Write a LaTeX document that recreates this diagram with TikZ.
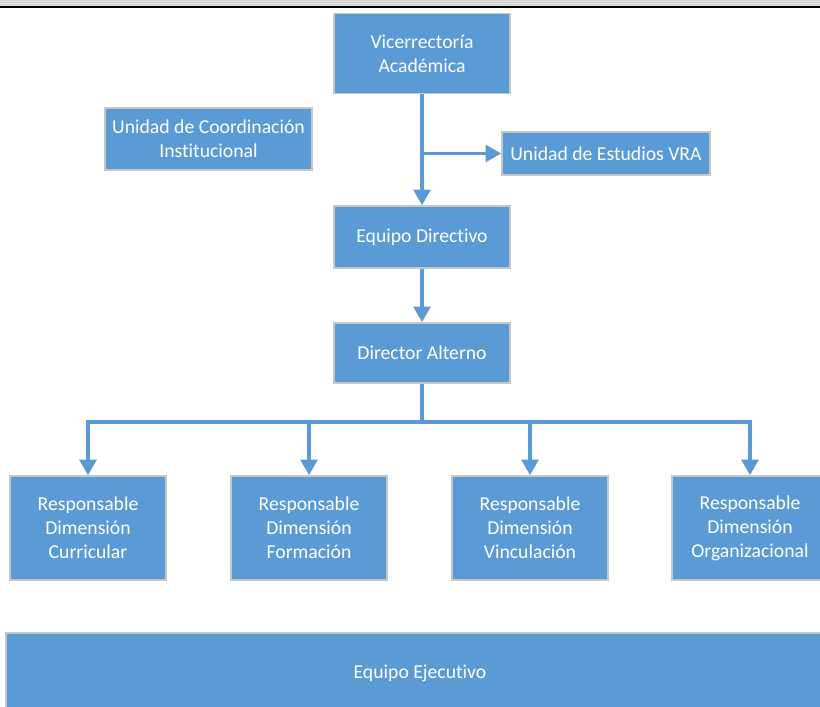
\documentclass[tikz,border=0pt]{standalone}
\usepackage{fontspec}
\setmainfont[Ligatures=NoCommon]{Carlito}
\usetikzlibrary{arrows.meta}

\definecolor{azul}{HTML}{5B9BD5}
\tikzset{
  caja/.style={fill=azul,draw=black!22,line width=1.2pt,text=white,align=center,
               font=\fontsize{14}{17}\selectfont,inner sep=2pt},
  linea/.style={draw=azul,line width=2.2pt},
  flecha/.style={linea,-{Triangle[width=12pt,length=11pt]}}
}

\begin{document}
\begin{tikzpicture}[x=0.025cm,y=-0.025cm]
	\useasboundingbox (0,0) rectangle (820,707);
	\fill [black!15] (0,0) rectangle (820,6.5);
	\draw [black,line width=1.4pt] (0,7.4) -- (820,7.4);

	%cajas
	\node [caja,minimum width=4.4cm,minimum height=2cm] (vra) at (422,53.5) {Vicerrectoría\\Académica};
	\node [caja,minimum width=5.175cm,minimum height=1.55cm] (uci) at (208.5,139) {Unidad de Coordinación\\Institucional};
	\node [caja,minimum width=5.2cm,minimum height=1.075cm] (uevra) at (606,153.5) {Unidad de Estudios VRA};
	\node [caja,minimum width=4.4cm,minimum height=1.55cm] (ed) at (422,237) {Equipo Directivo};
	\node [caja,minimum width=4.4cm,minimum height=1.5cm] (da) at (422,353) {Director Alterno};

	\node [caja,minimum width=3.9cm,minimum height=2.6cm] (rc) at (88,528) {Responsable\\Dimensión\\Curricular};
	\node [caja,minimum width=3.9cm,minimum height=2.6cm] (rf) at (309,528) {Responsable\\Dimensión\\Formación};
	\node [caja,minimum width=3.9cm,minimum height=2.6cm] (rv) at (530,528) {Responsable\\Dimensión\\Vinculación};
	\node [caja,minimum width=3.9cm,minimum height=2.6cm] (ro) at (750,528) {Responsable\\Dimensión\\Organizacional};

	\node [caja,minimum width=20.7cm,minimum height=2cm] (ee) at (420,673) {Equipo Ejecutivo};

	%conectores
	\draw [flecha] (vra) -- (ed);
	\draw [flecha] (vra.south |- uevra.west) -- (uevra.west);
	\draw [flecha] (ed) -- (da);
	\coordinate (bus) at (422,422);
	\draw [linea] (da) -- (bus);
	\foreach \r in {rc,rf,rv,ro}
		\draw [flecha] (bus) -| (\r.north);
\end{tikzpicture}
\end{document}
